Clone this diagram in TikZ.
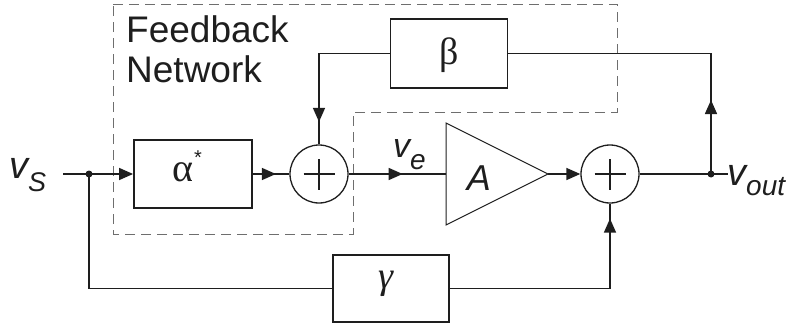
\documentclass[tikz,border=0pt]{standalone}
\usepackage{fontspec}
\setmainfont{Liberation Sans}
\newfontfamily\grk{Liberation Serif}
\usetikzlibrary{arrows.meta,decorations.markings}
\definecolor{ink}{RGB}{30,30,30}
\definecolor{dashgray}{RGB}{110,110,110}
\tikzset{
  wire/.style={draw=ink,line width=1.5pt},
  blk/.style={draw=ink,line width=1.8pt,inner sep=0pt},
  sumnode/.style={circle,draw=ink,line width=1.3pt,minimum size=58pt,inner sep=0pt,
    path picture={
      \draw[ink,line width=2.8pt] ([xshift=-15.5pt]path picture bounding box.center) -- ([xshift=15.5pt]path picture bounding box.center);
      \draw[ink,line width=2.8pt] ([yshift=-15.5pt]path picture bounding box.center) -- ([yshift=15.5pt]path picture bounding box.center);
    }},
  midarrow/.style={postaction={decorate},decoration={markings,mark=at position #1 with {\arrow{>}}}},
  region/.style={draw=dashgray,line width=1pt,dash pattern=on 10pt off 6pt},
  lbl/.style={inner sep=0pt,text=ink},
}
\begin{document}
\begin{tikzpicture}[x=1pt,y=-1pt,>={Triangle[length=14pt,width=12pt]}]
\useasboundingbox (0,0) rectangle (788,324);
% dashed feedback-network region
\draw[region] (113,4) -- (617,4) -- (617,112) -- (353,112) -- (353,234) -- (113,234) -- cycle;
\node[lbl,anchor=base west,font=\fontsize{37}{37}\selectfont] (fb1) at (126,42) {Feedback};
\node[lbl,anchor=base west,font=\fontsize{37}{37}\selectfont] (fb2) at (126,82) {Network};

% blocks
\node[blk,minimum width=118pt,minimum height=68pt] (alpha) at (193,174) {};
\node[blk,minimum width=117pt,minimum height=69pt] (beta) at (449,53.5) {};
\node[blk,minimum width=116pt,minimum height=67pt] (gamma) at (391,288.5) {};
\node[lbl,font=\grk\fontsize{40}{40}\selectfont] (alab) at (183,172) {α};
\node[lbl,font=\fontsize{20}{20}\selectfont] (astar) at (198,158) {*};
\node[lbl,font=\grk\fontsize{38}{38}\selectfont] (blab) at (449,55) {β};
\node[lbl,font=\grk\itshape\fontsize{38}{38}\selectfont] (glab) at (386,284) {γ};

% summing junctions
\node[sumnode] (sum1) at (319,174) {};
\node[sumnode] (sum2) at (610,174) {};

% amplifier
\coordinate (ampL) at (446,174);
\coordinate (ampT) at (446,123);
\coordinate (ampB) at (446,225);
\coordinate (ampO) at (548,174);
\draw[ink,line width=1pt] (ampT) -- (ampO) -- (ampB) -- cycle;
\node[lbl,anchor=base,font=\itshape\fontsize{36}{36}\selectfont] (Alab) at (479,190) {A};

% terminals
\coordinate (vin) at (63,174);
\coordinate (jin) at (89,174);
\coordinate (jout) at (711,174);
\coordinate (vend) at (728,174);

% connectors
\draw[wire,->] (vin) -- (alpha.west);
\draw[wire,midarrow=23pt] (alpha.east) -- (sum1.west);
\draw[wire,midarrow=54pt] (sum1.east) -- (ampL);
\draw[wire,->] (ampO) -- (sum2.west);
\draw[wire] (sum2.east) -- (vend);
\draw[wire,midarrow=74pt] (jout) -- (jout |- beta.east) -- (beta.east);
\draw[wire,midarrow=139pt] (beta.west) -| (sum1.north);
\draw[wire] (jin) |- (gamma.west);
\draw[wire,midarrow=230pt] (gamma.east) -| (sum2.south);
\fill[ink] (jin) circle (3.5);
\fill[ink] (jout) circle (3.5);

% signal labels
\node[lbl,anchor=base west] (vs) at (9,178) {\fontsize{38}{38}\selectfont\itshape v\raisebox{-13pt}{\fontsize{27}{27}\selectfont S}};
\node[lbl,anchor=base west] (ve) at (393,157) {\fontsize{34}{34}\selectfont\itshape v\raisebox{-12pt}{\fontsize{28}{28}\selectfont e}};
\node[lbl,anchor=base west] (vout) at (727,185) {\fontsize{38}{38}\selectfont\itshape v\raisebox{-10pt}{\fontsize{28}{28}\selectfont out}};
\end{tikzpicture}
\end{document}
